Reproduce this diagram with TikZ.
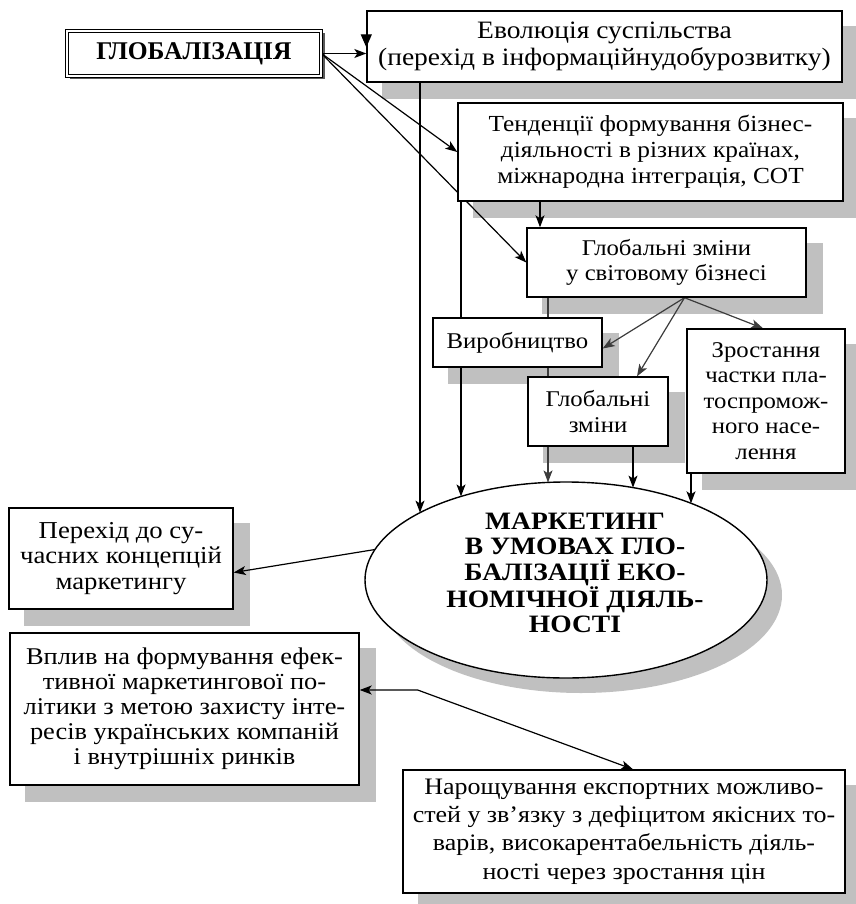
\documentclass[tikz,border=0pt]{standalone}
\usepackage{fontspec}
\setmainfont[FakeStretch=1.1]{Liberation Serif}
\newfontfamily\titlefont{Liberation Serif}
\usetikzlibrary{arrows.meta,shapes.geometric,calc}
\definecolor{shadowgray}{RGB}{192,192,192}
\definecolor{fangray}{RGB}{60,60,60}
\definecolor{framegray}{RGB}{90,90,90}
\pgfdeclarelayer{bg}
\pgfdeclarelayer{mid}
\pgfsetlayers{bg,mid,main}
\tikzset{
  boxn/.style={draw, line width=1.4pt, fill=white, align=center, inner sep=0pt,
    font=\fontsize{22.5}{25.5}\selectfont},
  arr/.style={-{Stealth[length=12pt,width=9pt,inset=3pt]}, line width=1.2pt},
  arrboth/.style={{Stealth[length=12pt,width=9pt,inset=3pt]}-{Stealth[length=12pt,width=9pt,inset=3pt]}, line width=1.2pt},
  shd/.style={fill=shadowgray, draw=none},
}
\newcommand{\boxshadow}[1]{\fill[shd] ([shift={(16,16)}]#1.north west) rectangle ([shift={(16,16)}]#1.south east);}
\begin{document}
\begin{tikzpicture}[x=1pt,y=-1pt]
\useasboundingbox (0,0) rectangle (855,904);
% nodes
\node[draw, double, double distance=2pt, line width=1pt, fill=white, minimum width=254pt, minimum height=45pt, inner sep=0pt,
  font=\titlefont\fontsize{25.5}{30}\selectfont\bfseries] (glob) at (194,53.5) {ГЛОБАЛІЗАЦІЯ};
\node[boxn, minimum width=475pt, minimum height=71pt, font=\fontsize{25}{27.5}\selectfont] (evo) at (604.5,46.5)
  {Еволюція суспільства\\(перехід в інформаційнудобурозвитку)};
\node[boxn, minimum width=385pt, minimum height=98pt, font=\fontsize{23}{25.8}\selectfont] (tend) at (650.5,152)
  {Тенденції формування бізнес-\\діяльності в різних країнах,\\міжнародна інтеграція, СОТ};
\node[boxn, minimum width=279pt, minimum height=69pt] (gch) at (666.5,262.5)
  {Глобальні зміни\\у світовому бізнесі};
\node[boxn, minimum width=169pt, minimum height=49pt] (vyr) at (517.5,342.5) {Виробництво};
\node[boxn, minimum width=140pt, minimum height=69pt] (gsm) at (598,411.5) {Глобальні\\зміни};
\node[boxn, minimum width=158pt, minimum height=144pt] (zro) at (766,401)
  {Зростання\\частки пла-\\тоспромож-\\ного насе-\\лення};
\node[ellipse, draw, line width=1.4pt, fill=white, minimum width=402pt, minimum height=196pt, inner sep=0pt] (ell) at (566,580) {};
\node[align=center, font=\fontsize{25}{25.5}\selectfont\bfseries] (ellt) at (575,573)
  {МАРКЕТИНГ\\В УМОВАХ ГЛО-\\БАЛІЗАЦІЇ ЕКО-\\НОМІЧНОЇ ДІЯЛЬ-\\НОСТІ};
\node[boxn, minimum width=224pt, minimum height=101pt, font=\fontsize{24.3}{25.7}\selectfont] (per) at (121,558.5)
  {Перехід до су-\\часних концепцій\\маркетингу};
\node[boxn, minimum width=349pt, minimum height=152pt, font=\fontsize{24}{25}\selectfont] (vpl) at (184.5,709)
  {Вплив на формування ефек-\\тивної маркетингової по-\\літики з метою захисту інте-\\ресів українських компаній\\і внутрішніх ринків};
\node[boxn, minimum width=442pt, minimum height=123pt, font=\fontsize{23.6}{28.3}\selectfont] (nar) at (624,831.5)
  {Нарощування експортних можливо-\\стей у зв’язку з дефіцитом якісних то-\\варів, високарентабельність діяль-\\ності через зростання цін};
% shadows
\begin{pgfonlayer}{bg}
  \fill[framegray] ([shift={(3,3)}]glob.north west) rectangle ([shift={(3,3)}]glob.south east);
  \boxshadow{evo}
  \boxshadow{tend}
  \boxshadow{gch}
  \boxshadow{vyr}
  \boxshadow{gsm}
  \boxshadow{zro}
  \boxshadow{per}
  \boxshadow{vpl}
  \boxshadow{nar}
  \fill[shd] ([shift={(15,15)}]ell.center) ellipse [x radius=201pt, y radius=98pt];
\end{pgfonlayer}
% helper coordinates
\coordinate (xa) at (420,0);
\coordinate (xb) at (461,0);
\coordinate (xc) at (548,0);
\coordinate (xd) at (633,0);
\coordinate (xe) at (691,0);
\coordinate (xf) at (540,0);
\coordinate (xg) at (637,0);
\coordinate (ea) at ($(ell.center)+(-146,-67.4)$);
\coordinate (eb) at ($(ell.center)+(-105,-83.6)$);
\coordinate (ec) at ($(ell.center)+(-18,-97.6)$);
\coordinate (ed) at ($(ell.center)+(67,-92.4)$);
\coordinate (ee) at ($(ell.center)+(125,-76.7)$);
\coordinate (ef) at ($(ell.center)+(-191,-30.5)$);
\coordinate (fan) at ([xshift=18pt]gch.south);
\coordinate (evotip) at ([yshift=-37pt]evo.north west);
% connectors
\begin{pgfonlayer}{mid}
  \draw[arr] (glob.east) -- (glob.east -| evo.west);
  \draw[arr] (glob.east) -- (tend.west);
  \draw[arr] (glob.east) -- (gch.west);
  \draw[arr] (evo.south -| xa) -- (ea);
  \draw[arr] (tend.south -| xb) -- (eb);
  \draw[arr] (tend.south -| xf) -- (gch.north -| xf);
  \draw[arr, draw=fangray] (gch.south -| xc) -- (ec);
  \draw[arr, draw=fangray] (fan) -- ([yshift=-6pt]vyr.east);
  \draw[arr, draw=fangray] (fan) -- (gsm.north -| xg);
  \draw[arr, draw=fangray] (fan) -- ([xshift=-3pt]zro.north);
  \draw[arr] (gsm.south -| xd) -- (ed);
  \draw[arr] (zro.south -| xe) -- (ee);
  \draw[arr] (ef) -- ([yshift=-14pt]per.east);
  \draw[arrboth] ([yshift=19pt]vpl.east) -- ++(58,0) -- ([xshift=9pt]nar.north);
\end{pgfonlayer}
\draw[-{Triangle[length=13pt,width=11pt]}, line width=1.4pt] (evo.north west) -- (evotip);
\end{tikzpicture}
\end{document}
